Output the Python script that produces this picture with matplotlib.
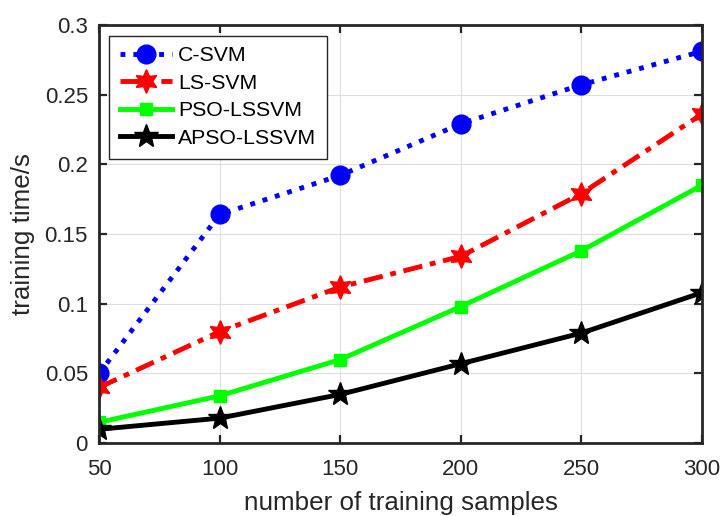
import matplotlib
matplotlib.use("Agg")
import matplotlib.pyplot as plt

plt.rcParams['font.family'] = ['Liberation Sans', 'DejaVu Sans']

# training set sizes and measured training time (s)
samples = [50, 100, 150, 200, 250, 300]
c_svm = [0.050, 0.164, 0.192, 0.229, 0.257, 0.281]
ls_svm = [0.040, 0.080, 0.112, 0.134, 0.179, 0.236]
pso_lssvm = [0.015, 0.034, 0.060, 0.098, 0.138, 0.185]
apso_lssvm = [0.010, 0.018, 0.035, 0.057, 0.079, 0.108]

fig = plt.figure(figsize=(7.23, 5.16), dpi=100)
ax = fig.add_axes([0.137, 0.141, 0.834, 0.811])

lw = 3.5
ax.plot(samples, c_svm, color='#0000ff', linestyle=':', linewidth=lw,
        marker='o', markersize=13.5, label='C-SVM')
# six-pointed star, like a hexagram marker
ax.plot(samples, ls_svm, color='#ff0000', linewidth=lw, dashes=(4, 1.6, 1.2, 1.6),
        marker=(6, 1, 0), markersize=17, label='LS-SVM')
ax.plot(samples, pso_lssvm, color='#00ff00', linestyle='-', linewidth=lw,
        marker='s', markersize=8.5, label='PSO-LSSVM')
ax.plot(samples, apso_lssvm, color='#000000', linestyle='-', linewidth=lw,
        marker='*', markersize=18, label='APSO-LSSVM')

ax.set_xlim(50, 300)
ax.set_ylim(0, 0.3)
ax.set_xticks(samples)
ax.set_yticks([0, 0.05, 0.1, 0.15, 0.2, 0.25, 0.3])
ax.set_yticklabels(['0', '0.05', '0.1', '0.15', '0.2', '0.25', '0.3'])

ax.grid(True, color='#dedede', linewidth=0.8)
ax.set_axisbelow(True)
for sp in ax.spines.values():
    sp.set_color('#262626')
    sp.set_linewidth(2.0)
ax.tick_params(direction='in', length=6, width=1.6, color='#262626',
               labelcolor='#262626', labelsize=16, top=True, right=True)
ax.tick_params(axis='x', pad=11)
ax.tick_params(axis='y', pad=8)

ax.set_xlabel('number of training samples', fontsize=18.7, color='#262626')
ax.set_ylabel('training time/s', fontsize=18.7, color='#262626')
ax.xaxis.set_label_coords(0.5, -0.113)
ax.yaxis.set_label_coords(-0.106, 0.5)

leg = ax.legend(loc='upper left', bbox_to_anchor=(0.0166, 0.9737), borderaxespad=0,
                fontsize=15.3, handlelength=2.45, handletextpad=0.3,
                borderpad=0.5, labelspacing=0.4, fancybox=False, framealpha=1)
leg.get_frame().set_edgecolor('#262626')
leg.get_frame().set_linewidth(1.0)

fig.savefig('out.png', dpi=100)
